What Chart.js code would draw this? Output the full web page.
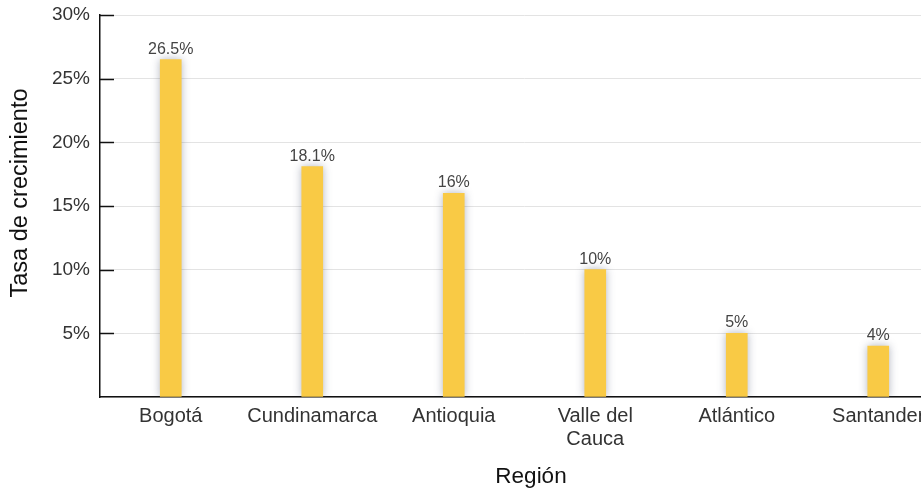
<!DOCTYPE html>
<html lang="es">
<head>
<meta charset="utf-8">
<title>Tasa de crecimiento por región</title>
<script src="https://cdn.jsdelivr.net/npm/chart.js@4/dist/chart.umd.min.js"></script>
<style>
  html, body { margin: 0; padding: 0; background: #ffffff; overflow: hidden; }
  #wrap { position: relative; width: 952px; height: 491px; }
</style>
</head>
<body>
<div id="wrap"><canvas id="chart"></canvas></div>
<script>
// Regiones y tasas de crecimiento (%)
const regions = ['Bogotá', 'Cundinamarca', 'Antioquia', ['Valle del', 'Cauca'], 'Atlántico', 'Santander'];
const growthRates = [26.5, 18.1, 16, 10, 5, 4];
const yTicks = [0, 5, 10, 15, 20, 25, 30];
const xTitle = 'Región';
const yTitle = 'Tasa de crecimiento';

const FONT = '"Liberation Sans", Arial, Helvetica, sans-serif';
const BAR_COLOR = '#f9ca45';

// Soft shadow behind the bars
const barShadow = {
  id: 'barShadow',
  beforeDatasetsDraw(chart) {
    const ctx = chart.ctx;
    ctx.save();
    ctx.shadowColor = 'rgba(60, 70, 100, 0.4)';
    ctx.shadowBlur = 8;
    ctx.shadowOffsetX = 0;
    ctx.shadowOffsetY = 0;
  },
  afterDatasetsDraw(chart) {
    chart.ctx.restore();
  }
};

// Inward tick marks on the y axis, value labels above bars, and axis titles
const extras = {
  id: 'extras',
  afterDraw(chart) {
    const ctx = chart.ctx;
    const y = chart.scales.y;
    const area = chart.chartArea;
    ctx.save();
    ctx.strokeStyle = '#111111';
    ctx.lineWidth = 1.5;
    y.ticks.forEach(t => {
      if (t.value <= 0) return;
      const py = Math.round(y.getPixelForValue(t.value)) + 0.5;
      ctx.beginPath();
      ctx.moveTo(area.left, py);
      ctx.lineTo(area.left + 14, py);
      ctx.stroke();
    });

    const meta = chart.getDatasetMeta(0);
    ctx.fillStyle = '#444444';
    ctx.font = '16px ' + FONT;
    ctx.textAlign = 'center';
    ctx.textBaseline = 'alphabetic';
    meta.data.forEach((bar, i) => {
      ctx.fillText(growthRates[i] + '%', bar.x, bar.y - 6);
    });

    // axis titles
    ctx.fillStyle = '#111111';
    ctx.font = '22.5px ' + FONT;
    ctx.fillText(xTitle, area.left + 431, chart.height - 8);

    ctx.font = '23.5px ' + FONT;
    ctx.translate(26.5, area.top + 178);
    ctx.rotate(-Math.PI / 2);
    ctx.fillText(yTitle, 0, 0);
    ctx.restore();
  }
};

new Chart(document.getElementById('chart'), {
  type: 'bar',
  data: {
    labels: regions,
    datasets: [{
      data: growthRates,
      backgroundColor: BAR_COLOR,
      borderWidth: 0,
      barThickness: 21
    }]
  },
  options: {
    responsive: true,
    maintainAspectRatio: false,
    animation: false,
    layout: { padding: { top: 15, right: 3, bottom: 0, left: 0 } },
    plugins: {
      legend: { display: false },
      tooltip: { enabled: false }
    },
    scales: {
      x: {
        grid: { display: false, drawTicks: false },
        border: { display: true, color: '#111111', width: 1.5 },
        ticks: {
          color: '#333333',
          font: { family: FONT, size: 20, lineHeight: 1.15 },
          padding: 8,
          maxRotation: 0,
          autoSkip: false
        },
        afterFit(scale) {
          scale.height = 94;
          scale.paddingLeft = 0;
          scale.paddingRight = 0;
        }
      },
      y: {
        min: 0,
        max: 30,
        afterBuildTicks(scale) {
          scale.ticks = yTicks.map(v => ({ value: v }));
        },
        grid: { color: '#e3e3e3', lineWidth: 1, drawTicks: false },
        border: { display: true, color: '#111111', width: 1.5 },
        ticks: {
          color: '#333333',
          font: { family: FONT, size: 19 },
          padding: 10,
          callback: v => (v === 0 ? '' : v + '%')
        },
        afterFit(scale) {
          scale.width = 100;
          scale.paddingTop = 0;
          scale.paddingBottom = 0;
        }
      }
    }
  },
  plugins: [barShadow, extras]
});
</script>
</body>
</html>
